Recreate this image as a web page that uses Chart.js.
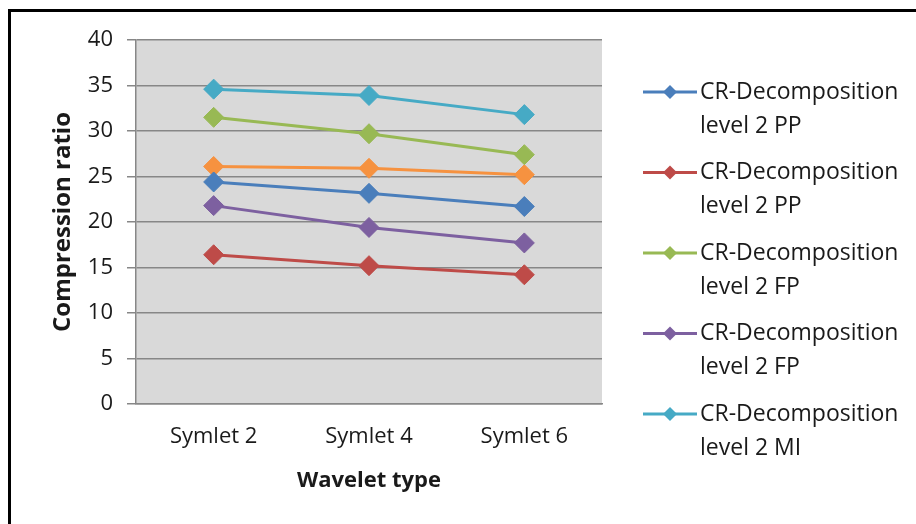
<!DOCTYPE html>
<html>
<head>
<meta charset="utf-8">
<script src="https://cdn.jsdelivr.net/npm/chart.js@4"></script>
<style>
  html, body { margin: 0; padding: 0; background: #fff; }
  #wrap { width: 916px; height: 524px; position: relative; }
</style>
</head>
<body>
<div id="wrap"><canvas id="crChart"></canvas></div>
<script>
// wavelet types on the x axis
const wavelets = ['Symlet 2', 'Symlet 4', 'Symlet 6'];

// compression ratio per series
const ppA = [24.4, 23.15, 21.7];
const ppB = [16.4, 15.2, 14.2];
const fpA = [31.5, 29.7, 27.4];
const fpB = [21.8, 19.4, 17.7];
const miA = [34.6, 33.9, 31.8];
const miB = [26.1, 25.9, 25.2];   // orange one, not shown in the legend

const seriesNames = [
    ['CR-Decomposition', 'level 2 PP'],
    ['CR-Decomposition', 'level 2 PP'],
    ['CR-Decomposition', 'level 2 FP'],
    ['CR-Decomposition', 'level 2 FP'],
    ['CR-Decomposition', 'level 2 MI'],
    ['CR-Decomposition', 'level 2 MI']
];
const seriesColors = ['#4A7EBB', '#BE4B48', '#98B954', '#7D60A0', '#46AAC5', '#F69240'];
const seriesData = [ppA, ppB, fpA, fpB, miA, miB];

const yTicks = { min: 0, max: 40, step: 5 };

const textColor = '#1a1a1a';
const gridColor = '#878787';
const fontFamily = "'Open Sans', sans-serif";

// white background, grey plot area and the black frame
const backgroundPlugin = {
    id: 'backgroundPlugin',
    beforeDraw(chart) {
        const ctx = chart.ctx;
        const a = chart.chartArea;
        ctx.save();
        ctx.fillStyle = '#ffffff';
        ctx.fillRect(0, 0, chart.width, chart.height);
        ctx.fillStyle = '#D9D9D9';
        ctx.fillRect(a.left, a.top, a.right - a.left, a.bottom - a.top);
        ctx.restore();
    },
    afterDraw(chart) {
        const ctx = chart.ctx;
        ctx.save();
        ctx.strokeStyle = '#000';
        ctx.lineWidth = 3;
        ctx.beginPath();
        ctx.moveTo(chart.width, 10.5);
        ctx.lineTo(9.5, 10.5);
        ctx.lineTo(9.5, chart.height);
        ctx.stroke();
        ctx.restore();
    }
};

// legend on the right: line with a diamond, two line label
const legendPlugin = {
    id: 'legendPlugin',
    afterDraw(chart) {
        const ctx = chart.ctx;
        ctx.save();
        ctx.font = "23px " + fontFamily;
        ctx.textBaseline = 'middle';
        ctx.textAlign = 'left';
        for (let i = 0; i < 5; i++) {
            const ds = chart.data.datasets[i];
            const y = 92 + i * 80.5;
            ctx.strokeStyle = ds.borderColor;
            ctx.lineWidth = 3;
            ctx.beginPath();
            ctx.moveTo(643, y);
            ctx.lineTo(697, y);
            ctx.stroke();
            ctx.fillStyle = ds.borderColor;
            ctx.beginPath();
            ctx.moveTo(670 - 7, y);
            ctx.lineTo(670, y - 7);
            ctx.lineTo(670 + 7, y);
            ctx.lineTo(670, y + 7);
            ctx.closePath();
            ctx.fill();
            ctx.fillStyle = textColor;
            ds.label.forEach((line, k) => {
                ctx.fillText(line, 700, y + k * 34);
            });
        }
        ctx.restore();
    }
};

const ctx1 = document.getElementById('crChart').getContext('2d');
new Chart(ctx1, {
    type: 'line',
    data: {
        labels: wavelets,
        datasets: seriesData.map((values, i) => ({
            label: seriesNames[i],
            data: values,
            borderColor: seriesColors[i],
            backgroundColor: seriesColors[i],
            borderWidth: 3,
            pointStyle: 'rectRot',
            pointRadius: 10,
            pointHoverRadius: 10,
            pointBorderWidth: 1,
            tension: 0
        }))
    },
    options: {
        responsive: true,
        maintainAspectRatio: false,
        animation: false,
        layout: {
            padding: { top: 40, right: 314, bottom: 0, left: 0 }
        },
        plugins: {
            legend: { display: false },
            tooltip: { enabled: false }
        },
        scales: {
            x: {
                offset: true,
                grid: { display: false, drawTicks: false },
                border: { display: true, color: gridColor, width: 1.5 },
                ticks: {
                    color: textColor,
                    padding: 20,
                    font: { family: fontFamily, size: 22 }
                },
                title: {
                    display: true,
                    text: 'Wavelet type',
                    color: textColor,
                    padding: { top: 0, bottom: 30 },
                    font: { family: fontFamily, size: 22, weight: 'bold' }
                },
                afterFit(axis) { axis.height = 120; }
            },
            y: {
                min: yTicks.min,
                max: yTicks.max,
                ticks: {
                    stepSize: yTicks.step,
                    color: textColor,
                    padding: 14,
                    font: { family: fontFamily, size: 22 }
                },
                grid: { color: gridColor, lineWidth: 1.5, tickLength: 9 },
                border: { display: true, color: gridColor, width: 1.5 },
                title: {
                    display: true,
                    text: 'Compression ratio',
                    color: textColor,
                    padding: { top: 49, bottom: 0 },
                    font: { family: fontFamily, size: 24, weight: 'bold' }
                },
                afterFit(axis) { axis.width = 136; }
            }
        }
    },
    plugins: [backgroundPlugin, legendPlugin]
});
</script>
</body>
</html>
